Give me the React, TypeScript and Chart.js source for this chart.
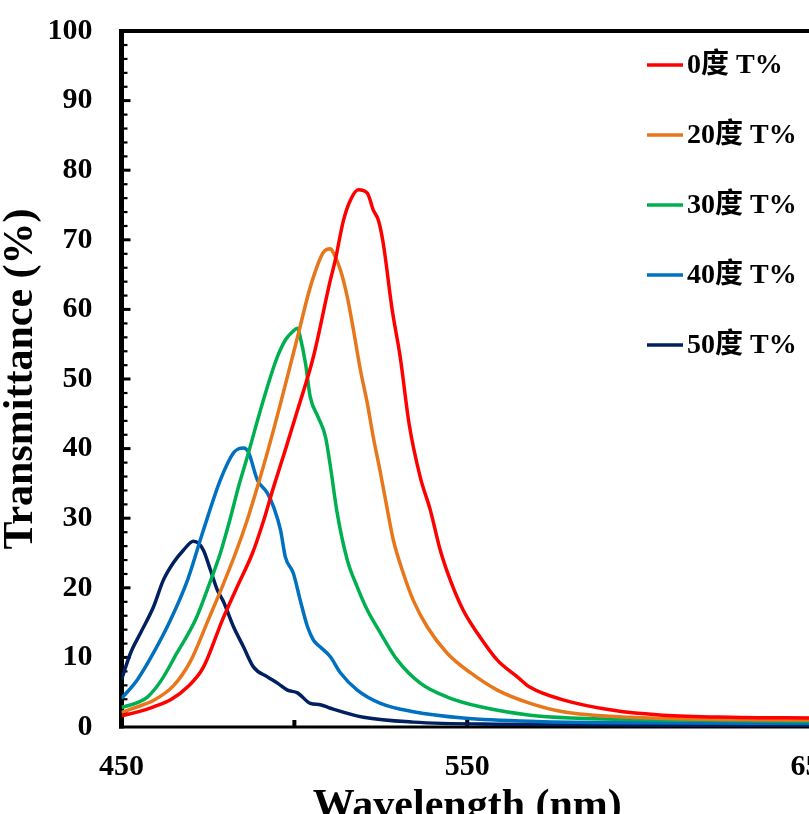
import React, { useEffect, useRef } from "react";
import { Chart, registerables } from "chart.js";

Chart.register(...registerables);

const seriesLabels = ["0度 T%", "20度 T%", "30度 T%", "40度 T%", "50度 T%"];
const seriesColors = ["#FF0000", "#E8761A", "#00B050", "#0070C0", "#002060"];

const wl0 = [450, 455, 459.3, 464.2, 469, 473.7, 479.2, 483.5, 487.9, 491, 494, 497.5, 500.9, 505.5, 510.4, 511.8, 514.2, 516.2, 518.5, 521.1, 522.8, 524.3, 525.7, 528.3, 530.6, 533.2, 536.4, 539.3, 542.2, 545.1, 548.8, 552.9, 558.7, 564.5, 568.2, 577.7, 592.2, 606.6, 626, 650];
const t0 = [1.6, 2.2, 2.9, 3.9, 5.7, 8.6, 15.4, 20.2, 25, 29.5, 34.5, 40, 45.5, 53.2, 64.2, 67, 72.8, 75.7, 77.2, 76.7, 74.3, 72.8, 69.5, 59.9, 53.2, 43.5, 35.9, 31.2, 25.4, 21.1, 16.8, 13.5, 9.6, 7.2, 5.7, 3.9, 2.4, 1.7, 1.4, 1.3];

const wl20 = [450, 454.6, 459.2, 465, 470, 475.1, 479, 483, 486.2, 489.3, 492.5, 496, 500.9, 504.6, 508.4, 510.4, 511.3, 513.3, 515.3, 517.1, 519.1, 521.1, 522.8, 524.9, 526.9, 528.6, 531.5, 534.4, 538.4, 544.2, 550.9, 558.7, 568.2, 577.7, 597.1, 620, 650];
const t20 = [2.1, 2.9, 3.8, 5.9, 9.5, 15.4, 20, 25, 29.5, 34.5, 40, 46.5, 56, 63.2, 68.2, 68.7, 68.1, 65.7, 61.8, 57, 51.3, 46.5, 41.7, 36.5, 31.2, 26.9, 22.1, 18.2, 14.4, 10.6, 7.8, 5.3, 3.4, 2.2, 1.4, 1.1, 1.0];

const wl30 = [450, 454.6, 457.5, 461.5, 466, 471.4, 475, 478.6, 481.2, 484, 486.5, 489.3, 492.2, 495.1, 497.4, 499.5, 500.9, 501.7, 503.2, 504.6, 506.9, 509, 510.4, 512.4, 515.3, 518.2, 521.1, 524.9, 529.8, 536.4, 544.2, 553.8, 568.2, 580, 610, 650];
const t30 = [2.8, 3.5, 4.3, 6.7, 10.6, 15.4, 20, 25, 29.5, 34.8, 39, 44, 48.9, 53.2, 55.6, 56.8, 57.3, 56, 52.3, 47.4, 44.5, 41.7, 37.5, 30.7, 24, 20.1, 16.8, 13.5, 9.6, 6.3, 4.3, 2.9, 1.7, 1.3, 1.0, 0.8];

const wl40 = [450, 454.6, 459.2, 464.2, 469.1, 473.7, 478.6, 482.4, 484, 485.3, 486.7, 489.3, 492.2, 494, 496, 497.4, 499.7, 501.7, 503.8, 505.5, 507.5, 510.4, 513.3, 518.2, 524.9, 534.4, 548.8, 570, 600, 650];
const t40 = [4.1, 6.8, 10.6, 15.4, 21.1, 28.3, 35.5, 39.4, 40, 40.1, 39.5, 35.5, 33.6, 31.6, 28.3, 24.4, 22.1, 18.2, 14.4, 12.5, 11.5, 10.1, 7.8, 5.3, 3.4, 2.2, 1.3, 0.8, 0.6, 0.5];

const wl50 = [450, 452.6, 455.5, 459.2, 462.1, 465, 467.9, 470.8, 472.3, 473.7, 475.7, 477.7, 479.5, 482.4, 485.3, 488.2, 492.2, 495.1, 498, 500.9, 504.6, 507.5, 510.4, 520, 534.4, 560, 600, 650];
const t50 = [6.8, 10.6, 13.5, 17.2, 21.1, 23.6, 25.4, 26.7, 26.4, 25.4, 22.6, 19.7, 18, 14.4, 11.5, 8.6, 7.2, 6.3, 5.3, 4.9, 3.4, 3.2, 2.7, 1.4, 0.7, 0.4, 0.3, 0.2];

const seriesX = [wl0, wl20, wl30, wl40, wl50];
const seriesY = [t0, t20, t30, t40, t50];

const xTickLabels = [450, 550, 650];
const yTickLabels = [0, 10, 20, 30, 40, 50, 60, 70, 80, 90, 100];

const SERIF = "'Liberation Serif', 'Times New Roman', 'Noto Sans CJK SC', serif";

const framePlugin = {
  id: "frame",
  beforeDatasetsDraw(chart: any) {
    const { ctx, chartArea: a, scales } = chart;
    const x = scales.x;
    const y = scales.y;
    ctx.save();
    ctx.fillStyle = "#000";
    ctx.fillRect(a.left - 2.5, a.top - 2, 5, a.bottom - a.top + 3.5);
    ctx.fillRect(a.left - 2.5, a.top - 2, a.right - a.left + 5, 4);
    ctx.fillRect(a.left - 2.5, a.bottom - 1.5, a.right - a.left + 5, 3);
    y.ticks.forEach((t: any) => {
      if (t.value <= y.min || t.value >= y.max) return;
      const py = y.getPixelForValue(t.value);
      const major = t.value % 10 === 0;
      if (major) ctx.fillRect(a.left, py - 1.5, 9, 3);
      else ctx.fillRect(a.left, py - 1, 6, 2.2);
    });
    x.ticks.forEach((t: any) => {
      if (t.value <= x.min || t.value >= x.max) return;
      const px = x.getPixelForValue(t.value);
      ctx.fillRect(px - 2, a.bottom - 7, 4, 7);
    });
    ctx.restore();
  },
};

const legendPlugin = {
  id: "innerLegend",
  afterDraw(chart: any, _args: any, opts: any) {
    const { ctx } = chart;
    ctx.save();
    chart.data.datasets.forEach((ds: any, i: number) => {
      const yy = opts.y0 + i * opts.dy;
      ctx.strokeStyle = ds.borderColor;
      ctx.lineWidth = 3.5;
      ctx.beginPath();
      ctx.moveTo(opts.x0, yy);
      ctx.lineTo(opts.x1, yy);
      ctx.stroke();
      ctx.fillStyle = "#000";
      ctx.font = `bold 28px ${SERIF}`;
      ctx.textBaseline = "middle";
      ctx.textAlign = "left";
      ctx.fillText(ds.label, opts.textX, yy + 1);
    });
    ctx.restore();
  },
};

export default function App() {
  const ref = useRef<HTMLCanvasElement | null>(null);

  useEffect(() => {
    if (!ref.current) return;
    const datasets = seriesLabels.map((label, i) => ({
      label,
      data: seriesX[i].map((xv, j) => ({ x: xv, y: seriesY[i][j] })),
      borderColor: seriesColors[i],
      backgroundColor: seriesColors[i],
      borderWidth: 3.5,
      pointRadius: 0,
      fill: false,
      cubicInterpolationMode: "monotone" as const,
    }));
    const chart = new Chart(ref.current, {
      type: "line",
      data: { datasets },
      plugins: [framePlugin, legendPlugin],
      options: {
        animation: false,
        responsive: false,
        maintainAspectRatio: false,
        layout: { padding: { left: 0, top: 31, right: 67, bottom: 0 } },
        plugins: {
          legend: { display: false },
          tooltip: { enabled: false },
          innerLegend: { x0: 647, x1: 683, textX: 687, y0: 65, dy: 70 },
        } as any,
        scales: {
          x: {
            type: "linear",
            min: 450,
            max: 650,
            grid: { display: false, drawTicks: false },
            border: { display: false },
            ticks: {
              stepSize: 50,
              autoSkip: false,
              maxRotation: 0,
              padding: 22,
              color: "#000",
              font: { family: SERIF, weight: "bold", size: 30 },
              callback: (v: any) => (xTickLabels.includes(Number(v)) ? String(v) : ""),
            },
            title: {
              display: true,
              text: "Wavelength (nm)",
              color: "#000",
              font: { family: SERIF, weight: "bold", size: 42, lineHeight: 1 },
              padding: { top: 32, bottom: 32 },
            },
            afterFit: (s: any) => {
              s.height = 133;
              s.paddingLeft = 0;
              s.paddingRight = 0;
            },
          },
          y: {
            type: "linear",
            min: 0,
            max: 100,
            grid: { display: false, drawTicks: false },
            border: { display: false },
            ticks: {
              stepSize: 2,
              autoSkip: false,
              padding: 29,
              color: "#000",
              font: { family: SERIF, weight: "bold", size: 30 },
              callback: (v: any) => (yTickLabels.includes(Number(v)) ? String(v) : ""),
            },
            title: {
              display: true,
              text: "Transmittance (%)",
              color: "#000",
              font: { family: SERIF, weight: "bold", size: 42, lineHeight: 1 },
              padding: { top: 0, bottom: 0 },
            },
            afterFit: (s: any) => {
              s.width = 121.5;
              s.paddingTop = 0;
              s.paddingBottom = 0;
            },
          },
        },
      } as any,
    });
    return () => chart.destroy();
  }, []);

  return (
    <div
      style={{
        position: "fixed",
        left: 0,
        top: 0,
        width: 809,
        height: 814,
        overflow: "hidden",
        background: "#fff",
      }}
    >
      <canvas ref={ref} width={880} height={860} style={{ display: "block", width: 880, height: 860 }} />
    </div>
  );
}
